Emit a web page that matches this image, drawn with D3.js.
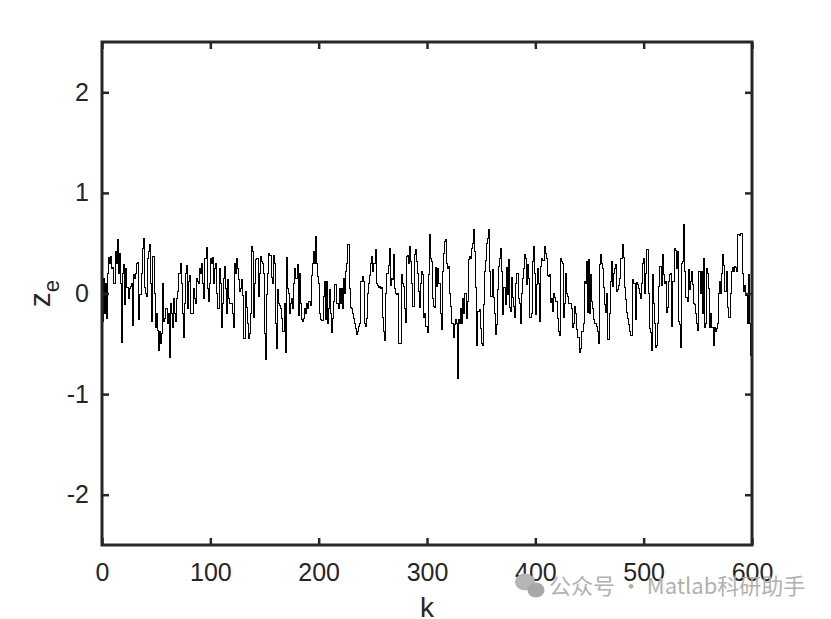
<!DOCTYPE html>
<html><head><meta charset="utf-8">
<script src="https://cdn.jsdelivr.net/npm/d3@7"></script>
<style>body{margin:0;background:#fff}</style>
</head><body>
<script>
// series z_e(k), k = 0..599
const ze = [
-0.28,0.15,-0.2,0.1,-0.25,0.2,0.36,0.3,0.37,0.25,0.26,0.1,0.42,0.3,0.54,0.2,0.4,0.1,-0.49,0.2,
0.29,-0.11,0.25,0.06,-0.05,0.05,0.07,0.1,-0.32,0.19,0.15,0.2,0.3,0.31,-0.26,-0.01,0.2,0.45,0.55,0.06,
0.0,-0.03,0.35,0.42,0.49,0.1,-0.28,0.37,0.0,-0.34,-0.2,-0.37,-0.57,-0.38,
-0.5,-0.4,0.1,-0.28,-0.25,-0.15,-0.3,-0.2,-0.64,-0.1,-0.2,-0.34,-0.05,-0.2,-0.28,-0.05,0.02,0.2,0.3,0.1,
-0.2,-0.44,-0.1,0.2,0.28,-0.15,0.12,0.18,-0.2,-0.2,0.05,-0.05,-0.1,0.15,0.12,0.1,0.25,0.2,0.3,0.1,
-0.05,0.35,0.46,0.05,-0.08,0.1,0.35,0.3,0.36,0.1,0.25,0.3,0.0,-0.15,0.25,
0.1,-0.34,-0.1,0.15,0.27,0.05,-0.2,0.14,-0.05,-0.1,-0.1,-0.2,-0.34,0.3,0.2,0.35,0.25,0.14,0.02,0.05,
0.14,-0.02,-0.45,0.02,-0.14,-0.3,-0.45,-0.4,-0.2,0.47,0.42,-0.24,0.1,0.34,0.35,-0.03,0.2,0.37,0.32,0.3,
0.2,-0.4,-0.66,-0.01,0.2,0.4,0.38,0.16,0.1,0.38,0.3,-0.3,-0.55,0.04,-0.1,
-0.12,-0.15,-0.25,-0.38,-0.1,-0.59,0.36,0.05,0.0,-0.2,-0.1,-0.05,-0.15,0.1,0.25,0.15,0.29,-0.22,0.2,-0.1,
-0.26,-0.28,-0.25,-0.15,-0.2,-0.1,-0.15,-0.08,-0.12,0.18,0.3,0.42,0.3,0.57,0.3,0.17,0.1,-0.2,-0.26,-0.27,
-0.03,0.12,-0.26,0.12,-0.3,-0.15,0.04,-0.2,-0.39,-0.25,-0.08,0.09,-0.1,-0.1,-0.15,0.05,
-0.1,0.05,-0.15,0.15,0.0,0.22,0.3,0.49,0.05,-0.14,-0.15,-0.2,-0.25,-0.3,-0.35,-0.41,-0.38,-0.33,-0.3,0.12,
0.17,0.12,-0.3,-0.33,-0.25,0.0,0.1,0.18,0.3,0.37,0.22,0.3,0.44,0.1,0.08,0.06,0.07,0.05,0.06,-0.24,
-0.38,-0.47,0.0,0.2,0.28,0.45,0.08,0.15,0.14,0.39,0.05,0.0,-0.01,0.0,-0.5,
-0.5,0.19,0.1,0.07,-0.15,-0.29,0.37,0.38,0.3,0.47,0.32,0.1,-0.13,0.39,0.44,0.32,0.2,0.02,-0.14,0.1,
0.22,0.19,-0.24,-0.2,-0.33,-0.39,0.19,0.59,0.35,0.32,-0.05,-0.13,-0.14,0.26,0.07,0.25,0.1,-0.2,-0.36,0.22,
0.4,0.52,0.54,0.3,0.25,0.27,0.0,-0.13,-0.3,-0.44,-0.31,-0.26,-0.3,-0.84,-0.26,-0.3,
-0.15,-0.3,-0.05,-0.2,0.0,-0.25,-0.08,0.34,0.37,0.35,0.45,0.5,0.64,0.42,0.06,-0.52,-0.18,-0.16,-0.35,-0.5,
-0.52,-0.11,0.22,0.33,0.5,0.55,0.64,0.22,-0.03,0.24,-0.04,-0.2,-0.41,-0.31,0.04,0.27,0.35,0.45,0.22,-0.21,
0.06,-0.11,0.26,-0.01,0.34,-0.14,-0.18,0.16,-0.04,-0.13,-0.24,0.1,0.2,-0.05,-0.1,
-0.3,0.0,0.15,0.25,0.39,0.35,0.09,0.29,0.15,-0.24,-0.2,0.32,0.47,0.2,-0.21,0.09,0.25,0.1,-0.28,0.27,
0.35,0.33,0.47,0.4,0.35,0.18,0.17,0.19,-0.09,-0.05,-0.18,0.0,-0.04,-0.08,-0.25,-0.38,-0.42,0.35,0.32,0.3,
-0.24,-0.1,0.2,0.0,-0.03,-0.1,-0.1,-0.15,-0.34,-0.3,-0.13,-0.2,-0.36,-0.44,-0.44,
-0.59,-0.55,-0.38,-0.3,0.12,0.1,0.32,-0.19,0.34,-0.2,0.19,-0.08,-0.15,-0.26,-0.3,-0.33,-0.38,-0.5,0.29,0.39,
0.3,0.25,0.06,-0.11,-0.19,0.0,-0.46,-0.2,0.12,0.32,0.07,0.2,0.25,0.29,0.02,0.04,0.08,0.15,0.35,0.49,
0.36,0.06,-0.06,-0.19,-0.25,-0.31,-0.38,-0.42,-0.42,0.14,0.1,-0.26,0.11,0.09,0.05,0.0,
-0.05,0.1,0.3,0.35,0.0,0.2,0.44,0.0,-0.35,-0.39,-0.57,0.19,-0.1,-0.3,-0.54,-0.52,-0.3,0.07,0.27,0.08,
0.39,0.19,0.1,0.12,-0.19,-0.14,0.12,0.19,0.2,-0.33,0.12,0.45,0.43,0.25,0.42,-0.28,-0.31,-0.54,0.3,0.32,
0.69,0.22,-0.04,-0.08,0.24,0.04,0.12,0.22,0.09,-0.1,-0.11,-0.2,-0.3,-0.37,0.22,
0.0,0.22,-0.2,0.35,-0.34,-0.3,0.25,0.2,0.05,-0.34,-0.2,-0.34,-0.52,-0.34,-0.38,-0.35,-0.3,0.0,0.12,0.0,
0.2,0.39,0.28,0.02,0.22,-0.14,-0.24,-0.24,0.0,0.22,0.26,0.22,0.27,0.26,0.22,0.59,0.58,0.6,0.6,0.2,
0.02,0.08,-0.02,0.0,-0.3,0.19,-0.3,-0.62
];
const xTicks = [0,100,200,300,400,500,600];
const yTicks = [-2,-1,0,1,2];
const xDomain = [0,600];
const yDomain = [-2.5,2.5];
const xLabel = "k";
const yLabelMain = "z";
const yLabelSub = "e";
const watermark = "公众号 · Matlab科研助手";

const W = 831, H = 619;
const m = {left:102, right:79, top:42, bottom:74};
const svg = d3.select("body").append("svg").attr("width",W).attr("height",H)
  .style("font-family","'Liberation Sans', Arial, Helvetica, sans-serif");
svg.append("rect").attr("width",W).attr("height",H).attr("fill","#fff");

const x = d3.scaleLinear().domain(xDomain).range([m.left, W-m.right]);
const y = d3.scaleLinear().domain(yDomain).range([H-m.bottom, m.top]);

const pts = ze.map((v,i)=>[i,v]);
pts.push([ze.length, ze[ze.length-1]]);
const line = d3.line().x(d=>x(d[0])).y(d=>y(d[1])).curve(d3.curveStepAfter);
svg.append("path").datum(pts).attr("d",line).attr("fill","none")
  .attr("stroke","#000").attr("stroke-width",1).attr("shape-rendering","crispEdges");

const axCol = "#262626";
const tl = 7;
const fs = 25;
// axes with inward ticks
const gB = svg.append("g").attr("transform",`translate(0,${H-m.bottom})`)
  .call(d3.axisBottom(x).tickValues(xTicks).tickSize(-tl).tickPadding(18).tickFormat(d3.format("d")));
const gT = svg.append("g").attr("transform",`translate(0,${m.top})`)
  .call(d3.axisTop(x).tickValues(xTicks).tickSize(-tl).tickFormat(""));
const gL = svg.append("g").attr("transform",`translate(${m.left},0)`)
  .call(d3.axisLeft(y).tickValues(yTicks).tickSize(-tl).tickPadding(13).tickFormat(d3.format("d")));
const gR = svg.append("g").attr("transform",`translate(${W-m.right},0)`)
  .call(d3.axisRight(y).tickValues(yTicks).tickSize(-tl).tickFormat(""));
[gB,gT,gL,gR].forEach(g=>{
  g.select(".domain").remove();
  g.selectAll(".tick line").attr("stroke",axCol).attr("stroke-width",2.5);
  g.selectAll(".tick text").attr("fill",axCol).style("font-size",fs+"px")
   .style("font-family","'Liberation Sans', Arial, sans-serif");
});
gL.selectAll(".tick text").text(d=> d<0 ? "-"+Math.abs(d) : d);

svg.append("rect").attr("x",m.left).attr("y",m.top)
  .attr("width",W-m.left-m.right).attr("height",H-m.top-m.bottom)
  .attr("fill","none").attr("stroke",axCol).attr("stroke-width",3);

// labels
svg.append("text").attr("x",(m.left+W-m.right)/2).attr("y",617)
  .attr("text-anchor","middle").attr("fill",axCol).style("font-size","28px").text(xLabel);
const yl = svg.append("text").attr("transform",`translate(50,${y(0)}) rotate(-90)`)
  .attr("text-anchor","middle").attr("fill",axCol).style("font-size","30px");
yl.append("tspan").text(yLabelMain);
yl.append("tspan").attr("dy",9).style("font-size","22px").text(yLabelSub);

// watermark
const wm = svg.append("g").attr("fill","#b5b5b5");
wm.append("ellipse").attr("cx",525).attr("cy",582).attr("rx",10).attr("ry",8.5);
wm.append("ellipse").attr("cx",536).attr("cy",590).attr("rx",8.5).attr("ry",7.5).attr("fill","#a8a8a8");
svg.append("text").attr("x",549).attr("y",594).attr("fill","#b0b0b0")
  .style("font-family","'Noto Sans CJK SC', sans-serif").style("font-size","22px").text(watermark);
</script>
</body></html>
